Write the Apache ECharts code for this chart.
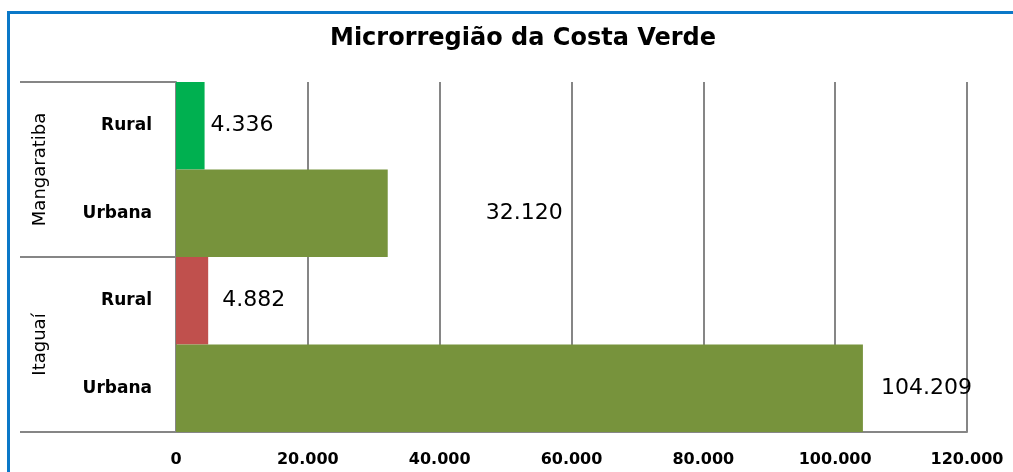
<!DOCTYPE html>
<html>
<head>
    <meta charset="utf-8">
    <title>Microrregião da Costa Verde</title>
    <script src="https://cdn.jsdelivr.net/npm/echarts@6/dist/echarts.min.js"></script>
    <style>
        html, body { margin: 0; padding: 0; background: #fff; }
        #main { width: 1013px; height: 472px; }
        /* moldura azul do grafico (estilo Excel) */
        #frame {
            position: absolute; left: 7px; top: 11px; width: 1010px; height: 470px;
            border-left: 3px solid #0A78C8; border-top: 3px solid #0A78C8;
            pointer-events: none;
        }
    </style>
</head>
<body>
    <div id="main"></div>
    <div id="frame"></div>
    <script>
        // dados (de cima para baixo)
        var municipios = ['Mangaratiba', 'Itaguaí'];
        var situacao = ['Rural', 'Urbana', 'Rural', 'Urbana'];
        var populacao = [4336, 32120, 4882, 104209];
        var cores = ['#00B050', '#77933C', '#C0504D', '#77933C'];
        var ticksX = [0, 20000, 40000, 60000, 80000, 100000, 120000];

        function fmt(v) {
            return String(v).replace(/\B(?=(\d{3})+(?!\d))/g, '.');
        }

        // deslocamento dos rotulos como no original do Excel
        var deslocRotulo = { 1: [92, 0], 2: [8, 0], 3: [12, 0] };

        var fonte = 'DejaVu Sans';
        var myChart = echarts.init(document.getElementById('main'));
        myChart.setOption({
            animation: false,
            title: {
                text: 'Microrregião da Costa Verde',
                left: 330,
                top: 27,
                padding: 0,
                textStyle: { fontFamily: fonte, fontSize: 24, fontWeight: 'bold', color: '#000' }
            },
            grid: { left: 176, right: 46, top: 82, bottom: 40 },
            xAxis: {
                type: 'value',
                min: ticksX[0],
                max: ticksX[ticksX.length - 1],
                interval: ticksX[1] - ticksX[0],
                axisLine: { show: true, lineStyle: { color: '#868686', width: 2 } },
                axisTick: { show: false },
                splitLine: { lineStyle: { color: '#868686', width: 2 } },
                axisLabel: {
                    margin: 20,
                    fontFamily: fonte, fontSize: 16, fontWeight: 'bold', color: '#000',
                    formatter: fmt
                }
            },
            yAxis: [{
                // nivel 1: Rural / Urbana
                type: 'category',
                inverse: true,
                data: situacao,
                axisLine: { lineStyle: { color: '#868686', width: 2 } },
                axisTick: { show: false },
                axisLabel: { margin: 24, fontFamily: fonte, fontSize: 17, fontWeight: 'bold', color: '#000' }
            }, {
                // linhas separadoras dos municipios
                type: 'category',
                inverse: true,
                data: municipios,
                position: 'left',
                offset: 156,
                axisLine: { show: false },
                axisTick: { show: true, inside: true, length: 156, lineStyle: { color: '#868686', width: 2 } },
                axisLabel: { show: false }
            }, {
                // nivel 2: nome do municipio
                type: 'category',
                inverse: true,
                data: municipios,
                position: 'left',
                offset: 127,
                axisLine: { show: false },
                axisTick: { show: false },
                axisLabel: { rotate: 90, margin: 0, fontFamily: fonte, fontSize: 18, color: '#000' }
            }],
            series: [{
                type: 'bar',
                yAxisIndex: 0,
                barCategoryGap: 0,
                data: populacao.map(function (v, i) {
                    var item = { value: v, itemStyle: { color: cores[i] } };
                    if (deslocRotulo[i]) item.label = { offset: deslocRotulo[i] };
                    return item;
                }),
                label: {
                    show: true,
                    position: 'right',
                    distance: 6,
                    fontFamily: fonte, fontSize: 22, color: '#000',
                    formatter: function (p) { return fmt(p.value); }
                }
            }]
        });
    </script>
</body>
</html>
